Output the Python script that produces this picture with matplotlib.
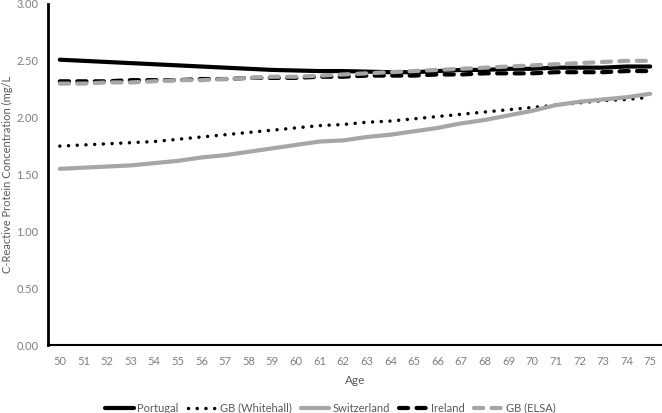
import matplotlib.pyplot as plt
import numpy as np

ages = list(range(50, 76))

portugal = [2.51, 2.50, 2.49, 2.48, 2.47, 2.46, 2.45, 2.44, 2.43, 2.42, 2.415, 2.41, 2.41,
            2.405, 2.40, 2.40, 2.41, 2.42, 2.42, 2.43, 2.43, 2.44, 2.44, 2.44, 2.45, 2.45]
whitehall = [1.75, 1.76, 1.77, 1.78, 1.79, 1.81, 1.83, 1.85, 1.87, 1.89, 1.91, 1.93, 1.94,
             1.96, 1.97, 1.99, 2.01, 2.03, 2.05, 2.07, 2.09, 2.11, 2.13, 2.15, 2.16, 2.18]
switzerland = [1.55, 1.56, 1.57, 1.58, 1.60, 1.62, 1.65, 1.67, 1.70, 1.73, 1.76, 1.79, 1.80,
               1.83, 1.85, 1.88, 1.91, 1.95, 1.98, 2.02, 2.06, 2.11, 2.14, 2.16, 2.18, 2.21]
ireland = [2.32, 2.32, 2.32, 2.33, 2.33, 2.33, 2.34, 2.34, 2.35, 2.35, 2.35, 2.36, 2.36,
           2.37, 2.37, 2.37, 2.38, 2.38, 2.39, 2.39, 2.39, 2.40, 2.40, 2.40, 2.41, 2.41]
elsa = [2.30, 2.30, 2.31, 2.31, 2.32, 2.33, 2.33, 2.34, 2.35, 2.36, 2.36, 2.37, 2.38,
        2.39, 2.40, 2.41, 2.42, 2.43, 2.44, 2.45, 2.46, 2.47, 2.48, 2.49, 2.50, 2.50]

plt.rcParams['font.family'] = ['Lato', 'DejaVu Sans']

fig = plt.figure(figsize=(6.62, 4.13), dpi=100)
ax = fig.add_axes([48 / 662, 1 - 345 / 413, 614 / 662, 341 / 413])

x = np.arange(len(ages))
gray = '#a6a6a6'
ax.plot(x, portugal, color='black', lw=3, solid_capstyle='round', label='Portugal')
ax.plot(x, whitehall, color='black', lw=2.5, linestyle=(0, (0.01, 2.5)),
        dash_capstyle='round', label='GB (Whitehall)')
ax.plot(x, switzerland, color=gray, lw=3, solid_capstyle='round', label='Switzerland')
ax.plot(x, ireland, color='black', lw=3, linestyle=(0, (2.2, 2.0)),
        dash_capstyle='round', label='Ireland')
ax.plot(x, elsa, color=gray, lw=3, linestyle=(0, (2.2, 2.0)),
        dash_capstyle='round', label='GB (ELSA)')

ax.set_xlim(-0.5, len(ages) - 0.5)
ax.set_ylim(0, 3.0)
ax.set_xticks(x)
ax.set_xticklabels([str(a) for a in ages])
ax.set_yticks(np.arange(0, 3.01, 0.5))
ax.set_yticklabels(['%.2f' % v for v in np.arange(0, 3.01, 0.5)])
ax.tick_params(length=0, labelsize=8, labelcolor='#7f7f7f', pad=8)
ax.tick_params(axis='y', pad=7)

for s in ['top', 'right']:
    ax.spines[s].set_visible(False)
ax.spines['left'].set_linewidth(2)
ax.spines['bottom'].set_linewidth(1.5)

ax.set_xlabel('Age', fontsize=8.5, color='#595959', labelpad=6)
ax.set_ylabel('C-Reactive Protein Concentration (mg/L', fontsize=8, color='#595959')
ax.yaxis.set_label_coords(-35 / 614, 0.5)

ax.legend(loc='center', bbox_to_anchor=(0.46, -0.185), ncol=5, frameon=False,
          fontsize=8, handlelength=2.6, columnspacing=0.8, handletextpad=0.3,
          labelcolor='#595959')

fig.savefig('out.png', dpi=100)
